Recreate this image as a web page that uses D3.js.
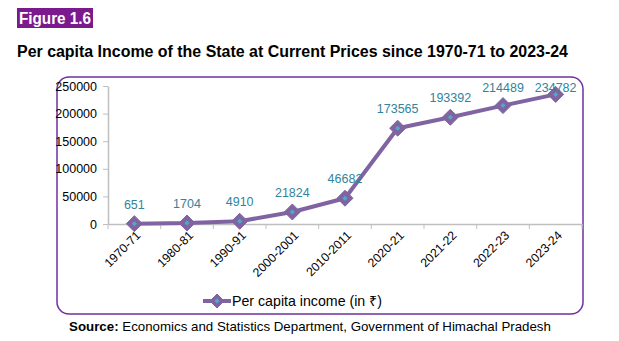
<!DOCTYPE html>
<html>
<head>
<meta charset="utf-8">
<script src="https://cdn.jsdelivr.net/npm/d3@7"></script>
<style>
  body { margin: 0; background: #fff; }
  text { font-family: "Liberation Sans", Arial, sans-serif; }
</style>
</head>
<body>
<script>
const years = ["1970-71", "1980-81", "1990-91", "2000-2001", "2010-2011", "2020-21", "2021-22", "2022-23", "2023-24"];
const income = [651, 1704, 4910, 21824, 46682, 173565, 193392, 214489, 234782];
const yTicks = [0, 50000, 100000, 150000, 200000, 250000];

const W = 619, H = 341;
const plot = { left: 108, right: 582, top: 86, bottom: 224 };
const FONT = "Liberation Sans, Arial, sans-serif";

const svg = d3.select("body").append("svg")
  .attr("width", W).attr("height", H);

// figure tag
svg.append("rect").attr("x", 17).attr("y", 8).attr("width", 76).attr("height", 20).attr("fill", "#7B1A8C");
svg.append("text").attr("x", 19).attr("y", 24).attr("fill", "#fff")
  .attr("font-size", 16).attr("font-weight", "bold")
  .attr("textLength", 72).attr("lengthAdjust", "spacingAndGlyphs")
  .text("Figure 1.6");

svg.append("text").attr("x", 17).attr("y", 57)
  .attr("font-size", 15.6).attr("font-weight", "bold")
  .attr("textLength", 551).attr("lengthAdjust", "spacingAndGlyphs")
  .text("Per capita Income of the State at Current Prices since 1970-71 to 2023-24");

// chart frame
svg.append("rect").attr("x", 57).attr("y", 77).attr("width", 526).attr("height", 237)
  .attr("rx", 12).attr("fill", "none").attr("stroke", "#7030A0").attr("stroke-width", 1.5);

const x = d3.scaleBand().domain(years).range([plot.left, plot.right]);
const y = d3.scaleLinear().domain([0, 250000]).range([plot.bottom, plot.top]);

// y axis
const yAxis = svg.append("g").attr("transform", `translate(${plot.left},0)`)
  .call(d3.axisLeft(y).tickValues(yTicks).tickFormat(d3.format("d")).tickSize(5).tickSizeOuter(0));
yAxis.selectAll("text").attr("font-size", 12.5).attr("fill", "#000").attr("font-family", FONT)
  .attr("x", -11);

// x axis
const xAxis = svg.append("g").attr("transform", `translate(0,${plot.bottom})`)
  .call(d3.axisBottom(x).tickSize(0).tickSizeOuter(0));
xAxis.selectAll(".tick line").remove();
xAxis.selectAll("text")
  .attr("font-size", 12.3).attr("fill", "#000").attr("font-family", FONT)
  .attr("text-anchor", "end").attr("dx", 0).attr("dy", 0)
  .attr("transform", "translate(5,10) rotate(-45)");
// boundary ticks
xAxis.selectAll("line.bt").data(d3.range(years.length + 1)).enter().append("line")
  .attr("x1", i => plot.left + i * x.bandwidth()).attr("x2", i => plot.left + i * x.bandwidth())
  .attr("y1", 0).attr("y2", 5).attr("stroke", "#bfbfbf");
svg.selectAll(".domain").attr("stroke", "#bfbfbf").attr("stroke-width", 1.5);
yAxis.selectAll(".tick line").attr("stroke", "#bfbfbf");

const cx = d => x(d) + x.bandwidth() / 2;
const pts = years.map((d, i) => [cx(d), y(income[i])]);

svg.append("path").attr("d", d3.line()(pts))
  .attr("fill", "none").attr("stroke", "#8064A2").attr("stroke-width", 4).attr("stroke-linejoin", "round");

const diamond = (g, px, py, r) => {
  g.append("path").attr("d", `M${px},${py - r}L${px + r},${py}L${px},${py + r}L${px - r},${py}Z`)
    .attr("fill", "#8064A2").attr("stroke", "#8064A2").attr("stroke-width", 1);
  g.append("path").attr("d", `M${px},${py - 2.5}L${px + 2.5},${py}L${px},${py + 2.5}L${px - 2.5},${py}Z`)
    .attr("fill", "#4BACC6");
};
pts.forEach(p => diamond(svg, p[0], p[1], 8));

svg.selectAll("text.lbl").data(income).enter().append("text")
  .attr("class", "lbl")
  .attr("x", (d, i) => pts[i][0]).attr("y", (d, i) => Math.max(pts[i][1] - 15, 92))
  .attr("text-anchor", "middle").attr("font-size", 12.5).attr("fill", "#31849B")
  .text(d => d);

// legend
const lg = svg.append("g");
lg.append("line").attr("x1", 203).attr("x2", 231).attr("y1", 301).attr("y2", 301)
  .attr("stroke", "#8064A2").attr("stroke-width", 4);
diamond(lg, 217, 301, 7);
lg.append("text").attr("x", 232).attr("y", 306).attr("font-size", 14.2).attr("fill", "#000")
  .text("Per capita income (in ₹)");

// source
const src = svg.append("text").attr("x", 310).attr("y", 331).attr("text-anchor", "middle")
  .attr("font-size", 13.3).attr("fill", "#000");
src.append("tspan").attr("font-weight", "bold").text("Source:");
src.append("tspan").text(" Economics and Statistics Department, Government of Himachal Pradesh");
</script>
</body>
</html>
